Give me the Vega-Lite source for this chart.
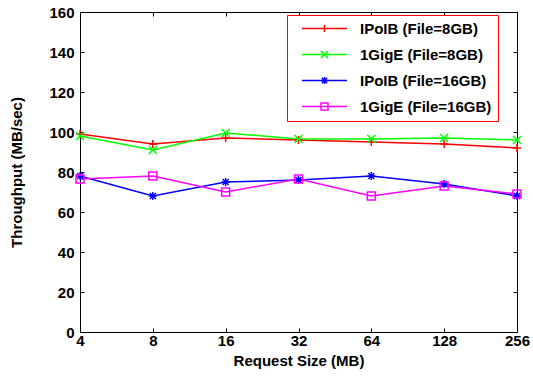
{
  "$schema": "https://vega.github.io/schema/vega-lite/v6.json",
  "width": 437,
  "height": 320,
  "autosize": "none",
  "padding": {"left": 80, "top": 12, "right": 16, "bottom": 49},
  "background": "white",
  "config": {
    "font": "Liberation Sans",
    "view": {"stroke": "black", "strokeWidth": 1},
    "axis": {
      "domain": false, "grid": false, "tickSize": -4, "tickColor": "black", "tickWidth": 1,
      "labelFont": "Liberation Sans", "labelFontWeight": "bold", "labelFontSize": 15, "labelColor": "black",
      "titleFont": "Liberation Sans", "titleFontWeight": "bold", "titleFontSize": 15, "titleColor": "black",
      "labelFlush": false, "labelOverlap": false
    }
  },
  "data": {"values": [
    {"size": 4, "series": "IPoIB (File=8GB)", "tp": 99},
    {"size": 8, "series": "IPoIB (File=8GB)", "tp": 94},
    {"size": 16, "series": "IPoIB (File=8GB)", "tp": 97},
    {"size": 32, "series": "IPoIB (File=8GB)", "tp": 96},
    {"size": 64, "series": "IPoIB (File=8GB)", "tp": 95},
    {"size": 128, "series": "IPoIB (File=8GB)", "tp": 94},
    {"size": 256, "series": "IPoIB (File=8GB)", "tp": 92},
    {"size": 4, "series": "1GigE (File=8GB)", "tp": 98},
    {"size": 8, "series": "1GigE (File=8GB)", "tp": 91},
    {"size": 16, "series": "1GigE (File=8GB)", "tp": 99.5},
    {"size": 32, "series": "1GigE (File=8GB)", "tp": 96.5},
    {"size": 64, "series": "1GigE (File=8GB)", "tp": 96.5},
    {"size": 128, "series": "1GigE (File=8GB)", "tp": 97},
    {"size": 256, "series": "1GigE (File=8GB)", "tp": 96},
    {"size": 4, "series": "IPoIB (File=16GB)", "tp": 78},
    {"size": 8, "series": "IPoIB (File=16GB)", "tp": 68},
    {"size": 16, "series": "IPoIB (File=16GB)", "tp": 75},
    {"size": 32, "series": "IPoIB (File=16GB)", "tp": 76},
    {"size": 64, "series": "IPoIB (File=16GB)", "tp": 78},
    {"size": 128, "series": "IPoIB (File=16GB)", "tp": 74},
    {"size": 256, "series": "IPoIB (File=16GB)", "tp": 68},
    {"size": 4, "series": "1GigE (File=16GB)", "tp": 76.5},
    {"size": 8, "series": "1GigE (File=16GB)", "tp": 78},
    {"size": 16, "series": "1GigE (File=16GB)", "tp": 70},
    {"size": 32, "series": "1GigE (File=16GB)", "tp": 76.5},
    {"size": 64, "series": "1GigE (File=16GB)", "tp": 68},
    {"size": 128, "series": "1GigE (File=16GB)", "tp": 73},
    {"size": 256, "series": "1GigE (File=16GB)", "tp": 69}
  ]},
  "layer": [
    {
      "mark": {"type": "line", "strokeWidth": 1.5},
      "encoding": {
        "x": {"field": "size", "type": "quantitative",
              "scale": {"type": "log", "base": 2, "domain": [4, 256], "nice": false},
              "axis": {"values": [4, 8, 16, 32, 64, 128, 256], "title": "Request Size (MB)", "labelPadding": 5, "titlePadding": 5}},
        "y": {"field": "tp", "type": "quantitative",
              "scale": {"domain": [0, 160], "nice": false},
              "axis": {"values": [0, 20, 40, 60, 80, 100, 120, 140, 160], "title": "Throughput (MB/sec)", "labelPadding": 10, "titlePadding": 24}},
        "color": {"field": "series", "type": "nominal",
                  "scale": {"domain": ["IPoIB (File=8GB)", "1GigE (File=8GB)", "IPoIB (File=16GB)", "1GigE (File=16GB)"],
                            "range": ["#ff0000", "#00ff00", "#0000ff", "#ff00ff"]},
                  "legend": null},
        "detail": {"field": "series"}
      }
    },
    {
      "mark": {"type": "point", "filled": false, "size": 64, "strokeWidth": 1.5, "opacity": 1},
      "encoding": {
        "x": {"field": "size", "type": "quantitative", "axis": null},
        "y": {"field": "tp", "type": "quantitative", "axis": null},
        "color": {"field": "series", "type": "nominal",
                  "scale": {"domain": ["IPoIB (File=8GB)", "1GigE (File=8GB)", "IPoIB (File=16GB)", "1GigE (File=16GB)"],
                            "range": ["#ff0000", "#00ff00", "#0000ff", "#ff00ff"]},
                  "legend": null},
        "shape": {"field": "series", "type": "nominal",
                  "scale": {"domain": ["IPoIB (File=8GB)", "1GigE (File=8GB)", "IPoIB (File=16GB)", "1GigE (File=16GB)"],
                            "range": ["M-1,0H1M0,-1V1", "M-1,-1L1,1M-1,1L1,-1", "M-1,0H1M0,-1V1M-0.75,-0.75L0.75,0.75M-0.75,0.75L0.75,-0.75", "M-1,-1H1V1H-1Z"]},
                  "legend": null}
      }
    },
    {
      "mark": {"type": "point", "filled": false, "size": 49, "strokeWidth": 1.5, "opacity": 0},
      "encoding": {
        "x": {"field": "size", "type": "quantitative", "axis": null},
        "y": {"field": "tp", "type": "quantitative", "axis": null},
        "color": {"field": "series", "type": "nominal",
                  "scale": {"domain": ["IPoIB (File=8GB)", "1GigE (File=8GB)", "IPoIB (File=16GB)", "1GigE (File=16GB)"],
                            "range": ["#ff0000", "#00ff00", "#0000ff", "#ff00ff"]},
                  "legend": {"title": null, "orient": "none", "legendX": 207, "legendY": 3,
                             "strokeColor": "#ff0000", "fillColor": "white", "padding": 6,
                             "symbolSize": 49, "symbolStrokeWidth": 1.5, "symbolOffset": 24, "labelOffset": 28,
                             "rowPadding": 10, "labelFont": "Liberation Sans", "labelFontWeight": "bold", "labelFontSize": 15, "labelColor": "black",
                             "encode": {"symbols": {"update": {"opacity": {"value": 1}}}, "legend": {"update": {"width": {"value": 210}}}}}},
        "shape": {"field": "series", "type": "nominal",
                  "scale": {"domain": ["IPoIB (File=8GB)", "1GigE (File=8GB)", "IPoIB (File=16GB)", "1GigE (File=16GB)"],
                            "range": ["M-6.43,0H6.43M0,-1V1", "M-6.43,0H6.43M-1,-1L1,1M-1,1L1,-1", "M-6.43,0H6.43M0,-1V1M-0.75,-0.75L0.75,0.75M-0.75,0.75L0.75,-0.75", "M-6.43,0H6.43M-1,-1H1V1H-1Z"]},
                  "legend": {"title": null}}
      }
    },
    {
      "mark": {"type": "point", "opacity": 0},
      "encoding": {
        "x": {"field": "size", "type": "quantitative",
              "axis": {"orient": "top", "values": [4, 8, 16, 32, 64, 128, 256], "labels": false, "title": null}},
        "y": {"field": "tp", "type": "quantitative",
              "axis": {"orient": "right", "values": [0, 20, 40, 60, 80, 100, 120, 140, 160], "labels": false, "title": null}}
      }
    }
  ],
  "resolve": {
    "scale": {"color": "independent", "shape": "independent"},
    "axis": {"x": "independent", "y": "independent"},
    "legend": {"color": "independent", "shape": "independent"}
  }
}
